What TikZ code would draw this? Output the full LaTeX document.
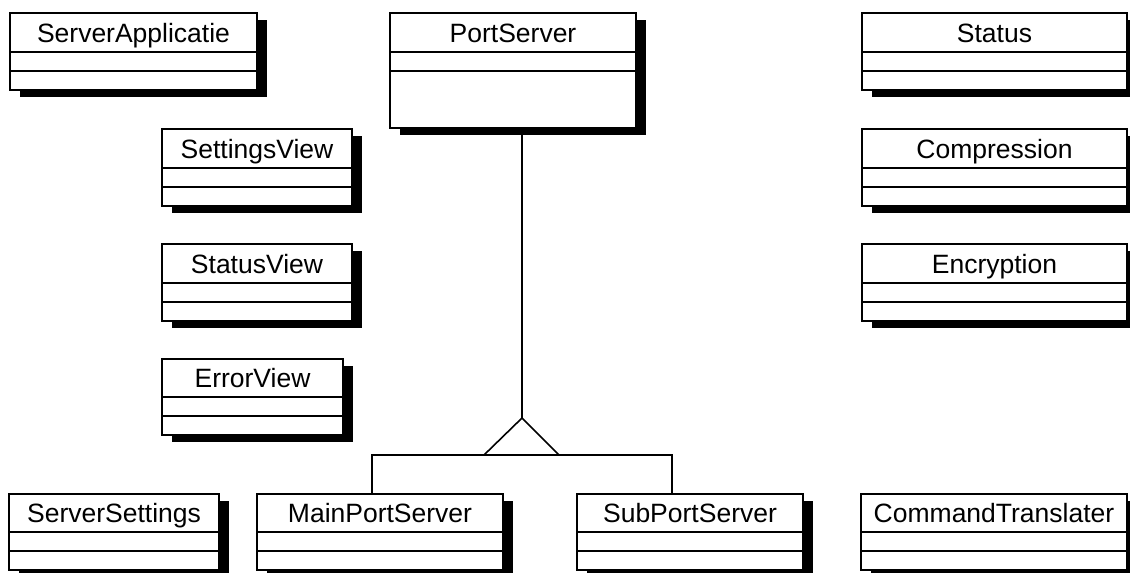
\documentclass[tikz,border=0pt]{standalone}
\usepackage{fontspec}
\setmainfont{Liberation Sans}
\tikzset{
  classbox/.style={draw=black, fill=white, line width=1.6pt, inner sep=0pt, outer sep=0pt},
  classshadow/.style={fill=black},
  classtitle/.style={font=\fontsize{26.5}{30}\selectfont, inner sep=0pt, anchor=base},
  link/.style={draw=black, line width=1.6pt},
}
% #1 name, #2 x1, #3 y1, #4 x2, #5 y2, #6 divider1, #7 divider2, #8 text
\newcommand\umlclassbox[8]{%
  \fill[classshadow] (#2+10,#3+7) rectangle (#4+10,#5+7);
  \node[classbox, anchor=north west, minimum width={(#4-#2)*1pt}, minimum height={(#5-#3)*1pt}] (#1) at (#2,#3) {};
  \draw[line width=1.4pt] (#2,#6) -- (#4,#6);
  \draw[line width=1.4pt] (#2,#7) -- (#4,#7);
  \node[classtitle] (#1-title) at ({(#2+#4)/2},{(#3+#6)/2+9.5}) {#8};
}
\begin{document}
\begin{tikzpicture}[x=1pt, y=-1pt]
\useasboundingbox[fill=white] (0,0) rectangle (1130,573);
% connectors
\coordinate (apex) at (522,418);
\coordinate (tl) at (484,455);
\coordinate (tr) at (559,455);
\coordinate (hl) at (372,455);
\coordinate (hr) at (672,455);
\umlclassbox{PortServer}{390}{13}{636}{128}{52}{71}{PortServer}
\umlclassbox{MainPortServer}{257}{494}{503}{570}{532}{551}{MainPortServer}
\umlclassbox{SubPortServer}{577}{494}{803}{570}{532}{551}{SubPortServer}
\draw[link] (apex |- PortServer.south) -- (apex);
\draw[link, line join=miter] (apex) -- (tl) -- (tr) -- cycle;
\draw[link] (hl |- MainPortServer.north) -- (hl) -- (hr) -- (hr |- SubPortServer.north);
% redraw PortServer shadow on top of line start
\fill[classshadow] (400,128.8) rectangle (646,135);
\umlclassbox{ServerApplicatie}{10}{13}{257}{90}{52}{71}{ServerApplicatie}
\umlclassbox{Status}{862}{13}{1127}{90}{52}{71}{Status}
\umlclassbox{SettingsView}{162}{129}{352}{206}{168}{187}{SettingsView}
\umlclassbox{Compression}{862}{129}{1127}{206}{168}{187}{Compression}
\umlclassbox{StatusView}{162}{244}{352}{321}{283}{302}{StatusView}
\umlclassbox{Encryption}{862}{244}{1127}{321}{283}{302}{Encryption}
\umlclassbox{ErrorView}{162}{359}{343}{435}{397}{416}{ErrorView}
\umlclassbox{ServerSettings}{9}{494}{219}{570}{532}{551}{ServerSettings}
\umlclassbox{CommandTranslater}{861}{494}{1127}{570}{532}{551}{CommandTranslater}
\end{tikzpicture}
\end{document}
